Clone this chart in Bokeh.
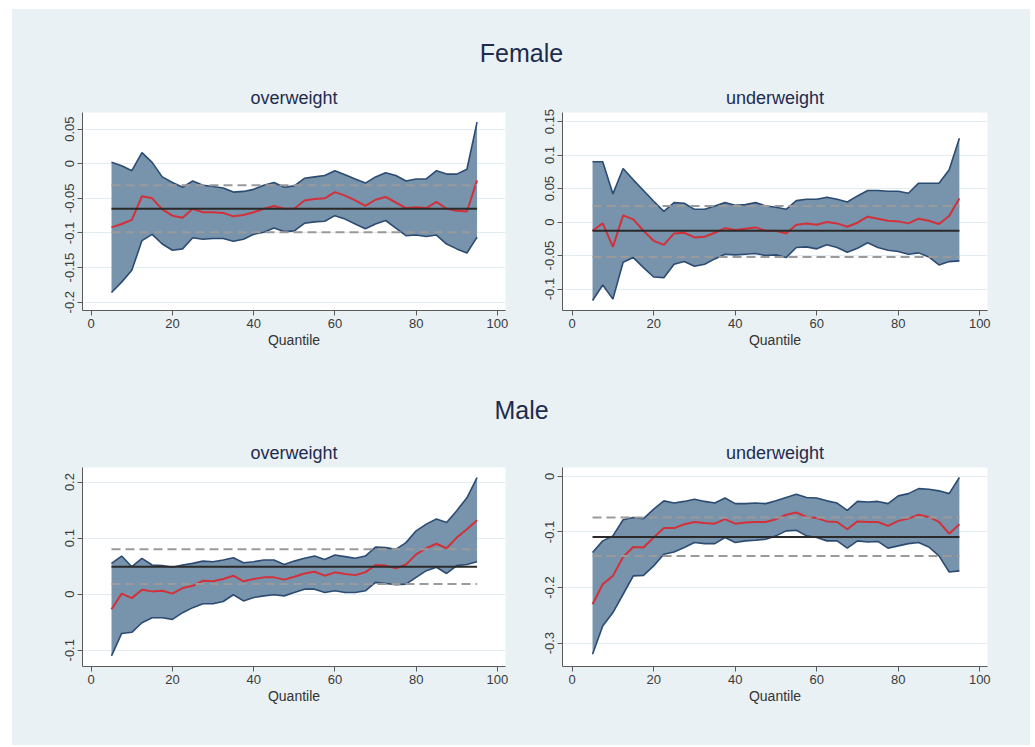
from bokeh.plotting import figure
from bokeh.layouts import row, column
from bokeh.models import Spacer, FixedTicker, Range1d
from bokeh.core.properties import value
from bokeh.embed import file_html
from bokeh.resources import INLINE

# ---------------- data ----------------
group_titles = ["Female", "Male"]
outcome_titles = ["overweight", "underweight"]
x_label = "Quantile"

quantiles = [5, 7.5, 10, 12.5, 15, 17.5, 20, 22.5, 25, 27.5, 30, 32.5, 35, 37.5,
             40, 42.5, 45, 47.5, 50, 52.5, 55, 57.5, 60, 62.5, 65, 67.5, 70, 72.5,
             75, 77.5, 80, 82.5, 85, 87.5, 90, 92.5, 95]
x_ticks = [0, 20, 40, 60, 80, 100]

# Female - overweight
f_ow_est = [-0.092, -0.087, -0.081, -0.047, -0.050, -0.066, -0.075, -0.078, -0.065, -0.070,
            -0.070, -0.071, -0.076, -0.074, -0.070, -0.065, -0.061, -0.065, -0.065, -0.053,
            -0.051, -0.050, -0.041, -0.046, -0.053, -0.061, -0.052, -0.048, -0.056, -0.064,
            -0.063, -0.064, -0.055, -0.065, -0.068, -0.069, -0.024]
f_ow_lo = [-0.186, -0.171, -0.154, -0.111, -0.102, -0.116, -0.125, -0.123, -0.107, -0.109,
           -0.108, -0.108, -0.112, -0.109, -0.102, -0.099, -0.093, -0.098, -0.097, -0.086,
           -0.084, -0.083, -0.075, -0.080, -0.087, -0.094, -0.087, -0.082, -0.093, -0.104,
           -0.103, -0.105, -0.103, -0.116, -0.123, -0.129, -0.106]
f_ow_hi = [0.002, -0.003, -0.010, 0.016, 0.002, -0.019, -0.027, -0.034, -0.025, -0.031,
           -0.033, -0.035, -0.041, -0.040, -0.037, -0.031, -0.027, -0.034, -0.032, -0.021,
           -0.019, -0.017, -0.010, -0.016, -0.022, -0.028, -0.019, -0.013, -0.017, -0.025,
           -0.022, -0.022, -0.010, -0.015, -0.015, -0.008, 0.060]
f_ow_ols = [-0.065, -0.099, -0.031]  # estimate, lower, upper
f_ow_yticks = [-0.2, -0.15, -0.1, -0.05, 0, 0.05]
f_ow_ylabels = ["-0.2", "-0.15", "-0.1", "-0.05", "0", "0.05"]

# Female - underweight
f_uw_est = [-0.013, -0.002, -0.037, 0.010, 0.004, -0.013, -0.028, -0.034, -0.017, -0.016,
            -0.023, -0.022, -0.016, -0.009, -0.012, -0.010, -0.008, -0.013, -0.013, -0.017,
            -0.004, -0.002, -0.004, 0.000, -0.002, -0.007, -0.001, 0.008, 0.005, 0.002,
            0.001, -0.002, 0.005, 0.002, -0.003, 0.009, 0.035]
f_uw_lo = [-0.117, -0.094, -0.115, -0.060, -0.053, -0.068, -0.082, -0.083, -0.063, -0.059,
           -0.066, -0.063, -0.055, -0.048, -0.049, -0.048, -0.047, -0.050, -0.049, -0.053,
           -0.038, -0.037, -0.040, -0.034, -0.038, -0.045, -0.039, -0.031, -0.038, -0.042,
           -0.044, -0.048, -0.046, -0.052, -0.064, -0.059, -0.058]
f_uw_hi = [0.090, 0.090, 0.042, 0.080, 0.063, 0.047, 0.031, 0.016, 0.029, 0.028,
           0.019, 0.019, 0.024, 0.029, 0.025, 0.026, 0.029, 0.024, 0.022, 0.019,
           0.032, 0.034, 0.034, 0.037, 0.034, 0.030, 0.039, 0.047, 0.047, 0.046,
           0.046, 0.043, 0.058, 0.058, 0.058, 0.078, 0.125]
f_uw_ols = [-0.013, -0.052, 0.024]
f_uw_yticks = [-0.1, -0.05, 0, 0.05, 0.1, 0.15]
f_uw_ylabels = ["-0.1", "-0.05", "0", "0.05", "0.1", "0.15"]

# Male - overweight
m_ow_est = [-0.027, 0.001, -0.007, 0.008, 0.005, 0.006, 0.001, 0.011, 0.015, 0.024,
            0.023, 0.027, 0.033, 0.023, 0.027, 0.030, 0.030, 0.026, 0.031, 0.037,
            0.040, 0.033, 0.039, 0.036, 0.034, 0.039, 0.052, 0.051, 0.046, 0.053,
            0.071, 0.082, 0.090, 0.082, 0.101, 0.116, 0.132]
m_ow_lo = [-0.110, -0.070, -0.068, -0.051, -0.042, -0.042, -0.045, -0.033, -0.024, -0.017,
           -0.017, -0.013, -0.001, -0.012, -0.006, -0.003, -0.001, -0.003, 0.003, 0.009,
           0.009, 0.003, 0.006, 0.003, 0.003, 0.006, 0.021, 0.019, 0.017, 0.018,
           0.030, 0.042, 0.048, 0.037, 0.051, 0.053, 0.058]
m_ow_hi = [0.055, 0.068, 0.049, 0.064, 0.052, 0.051, 0.048, 0.052, 0.055, 0.059,
           0.058, 0.061, 0.065, 0.056, 0.058, 0.061, 0.061, 0.053, 0.059, 0.064,
           0.068, 0.062, 0.070, 0.067, 0.064, 0.068, 0.084, 0.083, 0.080, 0.092,
           0.113, 0.125, 0.134, 0.128, 0.149, 0.172, 0.208]
m_ow_ols = [0.049, 0.018, 0.080]
m_ow_yticks = [-0.1, 0, 0.1, 0.2]
m_ow_ylabels = ["-0.1", "0", "0.1", "0.2"]

# Male - underweight
m_uw_est = [-0.230, -0.194, -0.179, -0.145, -0.127, -0.128, -0.110, -0.093, -0.093, -0.086,
            -0.082, -0.084, -0.085, -0.077, -0.085, -0.083, -0.082, -0.082, -0.077, -0.069,
            -0.065, -0.073, -0.075, -0.081, -0.082, -0.095, -0.081, -0.082, -0.082, -0.089,
            -0.080, -0.076, -0.069, -0.073, -0.082, -0.103, -0.086]
m_uw_lo = [-0.320, -0.269, -0.245, -0.212, -0.179, -0.178, -0.161, -0.140, -0.136, -0.128,
           -0.119, -0.121, -0.121, -0.110, -0.119, -0.116, -0.115, -0.113, -0.107, -0.098,
           -0.097, -0.107, -0.110, -0.116, -0.116, -0.129, -0.116, -0.118, -0.117, -0.129,
           -0.125, -0.121, -0.119, -0.127, -0.143, -0.172, -0.170]
m_uw_hi = [-0.137, -0.116, -0.107, -0.078, -0.074, -0.076, -0.059, -0.044, -0.048, -0.045,
           -0.041, -0.045, -0.048, -0.039, -0.049, -0.049, -0.048, -0.049, -0.044, -0.038,
           -0.032, -0.038, -0.039, -0.044, -0.048, -0.061, -0.045, -0.046, -0.045, -0.049,
           -0.035, -0.031, -0.022, -0.023, -0.026, -0.031, -0.002]
m_uw_ols = [-0.109, -0.143, -0.074]
m_uw_yticks = [-0.3, -0.2, -0.1, 0]
m_uw_ylabels = ["-0.3", "-0.2", "-0.1", "0"]

# ---------------- style ----------------
BG = "#E9F1F4"
BAND = "#7893AC"
EDGE = "#2C4B72"
RED = "#D3313A"
OLS = "#2A2A2A"
DASH = "#9A9A9A"
TXT = "#1E2B4F"
AX = "#5A5A5A"
FONT = "Liberation Sans"


def panel(title, est, lo, hi, ols, yticks, ylabels, xr, yr, w, h, bl, br, bt, bb):
    p = figure(width=w, height=h, x_range=Range1d(*xr), y_range=Range1d(*yr),
               output_backend="svg", toolbar_location=None, title=title,
               min_border_left=bl, min_border_right=br, min_border_top=bt,
               min_border_bottom=bb)
    p.background_fill_color = "white"
    p.border_fill_color = BG
    p.outline_line_color = None

    p.varea(x=quantiles, y1=lo, y2=hi, fill_color=BAND, fill_alpha=1)
    p.line(quantiles, hi, line_color=EDGE, line_width=1.6)
    p.line(quantiles, lo, line_color=EDGE, line_width=1.6)
    p.line(quantiles, est, line_color=RED, line_width=2)
    xs = [quantiles[0], quantiles[-1]]
    p.line(xs, [ols[1], ols[1]], line_color=DASH, line_width=2, line_dash="9 5")
    p.line(xs, [ols[2], ols[2]], line_color=DASH, line_width=2, line_dash="9 5")
    p.line(xs, [ols[0], ols[0]], line_color=OLS, line_width=2)

    p.title.text_font = FONT
    p.title.text_font_size = "18px"
    p.title.text_font_style = "normal"
    p.title.text_color = TXT
    p.title.align = "center"

    p.xgrid.grid_line_color = None
    p.ygrid.grid_line_color = "#E3EDF1"
    p.ygrid.grid_line_width = 1

    p.xaxis.ticker = FixedTicker(ticks=x_ticks)
    p.yaxis.ticker = FixedTicker(ticks=yticks)
    p.yaxis.major_label_overrides = {t: l for t, l in zip(yticks, ylabels)}
    p.yaxis.major_label_orientation = "vertical"
    p.xaxis.axis_label = x_label
    p.xaxis.axis_label_text_font = FONT
    p.xaxis.axis_label_text_font_size = "14px"
    p.xaxis.axis_label_text_font_style = "normal"
    p.xaxis.axis_label_text_color = "#333333"
    p.xaxis.axis_label_standoff = 1
    for ax in (p.xaxis, p.yaxis):
        ax.axis_line_color = AX
        ax.major_tick_line_color = AX
        ax.major_tick_out = 5
        ax.major_tick_in = 0
        ax.minor_tick_line_color = None
        ax.major_label_text_font = FONT
        ax.major_label_text_font_size = "13px"
        ax.major_label_text_color = "#3A3A3A"
        ax.major_label_standoff = 3
    return p


def title_fig(text, w, h, ypos):
    t = figure(width=w, height=h, x_range=Range1d(0, 1), y_range=Range1d(0, 1),
               x_axis_type=None, y_axis_type=None, output_backend="svg",
               toolbar_location=None, min_border=0)
    t.background_fill_color = BG
    t.border_fill_color = BG
    t.outline_line_color = None
    t.grid.grid_line_color = None
    t.text(x=[0.5], y=[ypos], text=[text], text_font=value(FONT),
           text_font_size="25px", text_align="center", text_baseline="middle",
           text_color=TXT)
    return t


XR_L = (-2.14, 102.0)
XR_R = (-2.37, 101.9)

p1 = panel(outcome_titles[0], f_ow_est, f_ow_lo, f_ow_hi, f_ow_ols, f_ow_yticks, f_ow_ylabels,
           XR_L, (-0.212, 0.074), 522, 290, 70, 29, 32, 60)
p2 = panel(outcome_titles[1], f_uw_est, f_uw_lo, f_uw_hi, f_uw_ols, f_uw_yticks, f_uw_ylabels,
           XR_R, (-0.132, 0.1635), 496, 290, 28, 43, 32, 60)
p3 = panel(outcome_titles[0], m_ow_est, m_ow_lo, m_ow_hi, m_ow_ols, m_ow_yticks, m_ow_ylabels,
           XR_L, (-0.129, 0.226), 522, 310, 70, 29, 32, 79)
p4 = panel(outcome_titles[1], m_uw_est, m_uw_lo, m_uw_hi, m_uw_ols, m_uw_yticks, m_uw_ylabels,
           XR_R, (-0.342, 0.016), 496, 310, 28, 43, 32, 79)

t1 = title_fig(group_titles[0], 1018, 71, 0.39)
t2 = title_fig(group_titles[1], 1018, 65, 0.40)

bgstyle = {"background-color": BG}
inner = column(t1,
               row(p1, p2, styles=bgstyle),
               t2,
               row(p3, p4, styles=bgstyle),
               styles=bgstyle)
layout = column(Spacer(width=1018, height=9),
                row(Spacer(width=12, height=737), inner))

open("out.html", "w").write(file_html(layout, INLINE))
